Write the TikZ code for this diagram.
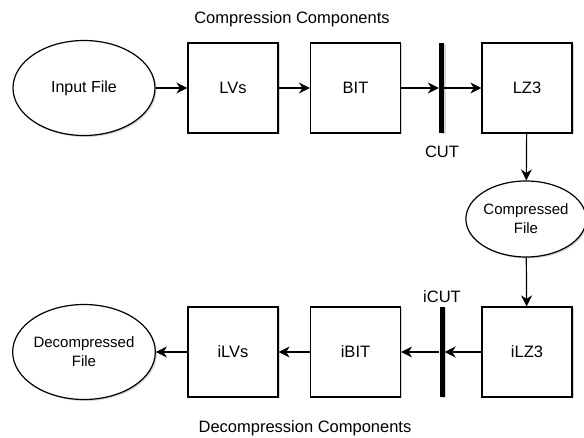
\documentclass[tikz,border=0pt]{standalone}
\usepackage{fontspec}
\setmainfont{Liberation Sans}
\usetikzlibrary{shapes.geometric,arrows.meta,shadows}
\tikzset{
  shad/.style={drop shadow={shadow xshift=1.5pt, shadow yshift=-1.5pt, fill=black!16, opacity=1}},
  box/.style={draw, line width=1.2pt, fill=white, minimum width=90pt, minimum height=90pt, inner sep=0pt,
    font=\fontsize{16.5}{18}\selectfont, shad},
  oval/.style={draw, line width=1.2pt, fill=white, ellipse, inner sep=0pt, align=center,
    font=\fontsize{15}{19}\selectfont, shad},
  bar/.style={fill=black, draw=none, minimum width=5pt, minimum height=90pt, inner sep=0pt, shad},
  lbl/.style={font=\fontsize{16.5}{18}\selectfont, inner sep=0pt},
  arr/.style={line width=1.2pt, -{Stealth[length=11pt,width=11pt,inset=3.5pt]}}
}
\begin{document}
\begin{tikzpicture}[x=1pt,y=-1pt]
\useasboundingbox (0,0) rectangle (584,438);
\node[lbl] (t1) at (292,19) {Compression Components};
\node[lbl] (t2) at (305,428) {Decompression Components};
\node[oval, minimum width=142pt, minimum height=95pt, font=\fontsize{16}{19}\selectfont] (in) at (84,88) {Input File};
\node[box] (lvs) at (233,88) {LVs};
\node[box] (bit) at (355.5,88) {BIT};
\node[bar] (cut) at (441.5,88) {};
\node[lbl] (cutl) at (442,152) {CUT};
\node[box] (lz3) at (527,88) {LZ3};
\node[oval, minimum width=114pt, minimum height=76pt] (comp) at (526,219) {Compressed\\File};
\node[box] (ilz3) at (527,352) {iLZ3};
\node[lbl] (icutl) at (442,297) {iCUT};
\node[bar] (icut) at (442,352) {};
\node[box] (ibit) at (355.5,352) {iBIT};
\node[box] (ilvs) at (233,352) {iLVs};
\node[oval, minimum width=142pt, minimum height=95pt] (dec) at (84,352) {Decompressed\\File};
\draw[arr] (in) -- (lvs);
\draw[arr] (lvs) -- (bit);
\draw[arr] (bit) -- (cut);
\draw[arr] (cut) -- (lz3);
\draw[arr] (lz3) -- (comp);
\draw[arr] (comp) -- (ilz3);
\draw[arr] (ilz3) -- (icut);
\draw[arr] (icut) -- (ibit);
\draw[arr] (ibit) -- (ilvs);
\draw[arr] (ilvs) -- (dec);
\end{tikzpicture}
\end{document}
